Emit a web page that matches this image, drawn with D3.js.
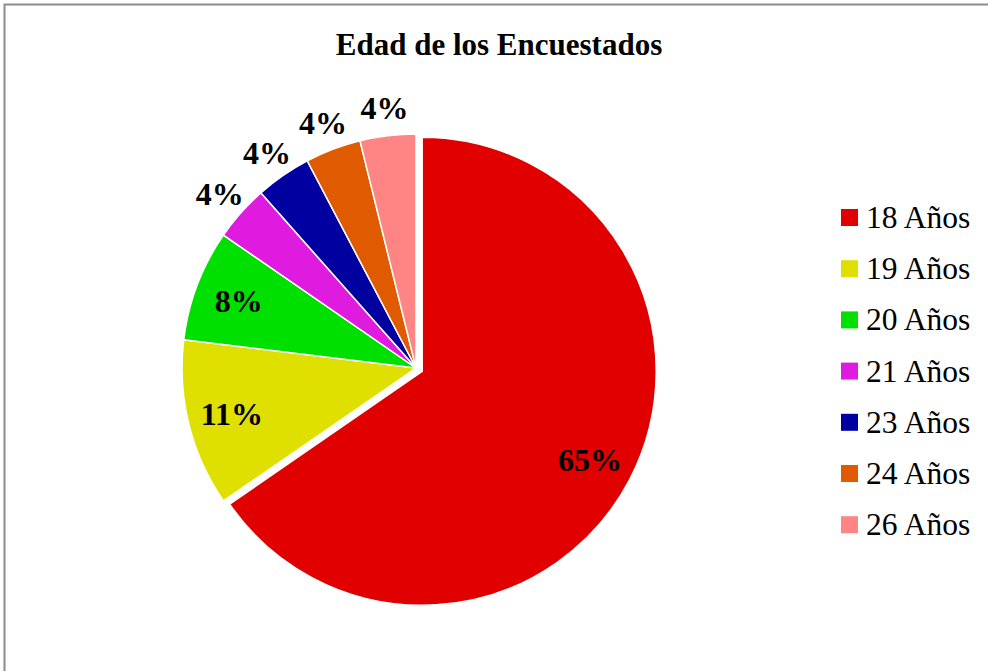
<!DOCTYPE html>
<html>
<head>
<meta charset="utf-8">
<script src="https://cdn.jsdelivr.net/npm/d3@7"></script>
<style>
  html, body { margin: 0; padding: 0; background: #fff; }
  svg { display: block; font-family: "Liberation Serif", "Times New Roman", serif; }
</style>
</head>
<body>
<svg id="chart" width="988" height="671"></svg>
<script>
// data (26 respondents)
const categories = ["18 Años", "19 Años", "20 Años", "21 Años", "23 Años", "24 Años", "26 Años"];
const counts = [17, 3, 2, 1, 1, 1, 1];
const percentLabels = ["65%", "11%", "8%", "4%", "4%", "4%", "4%"];
const colors = ["#e00000", "#e0e000", "#00e000", "#e01be0", "#0000a0", "#e05a00", "#ff8585"];
const title = "Edad de los Encuestados";

const cx = 416, cy = 368, radius = 234;

const svg = d3.select("#chart");

// outer frame (runs off the right and bottom edges)
svg.append("rect")
  .attr("x", 4.5).attr("y", 4.5)
  .attr("width", 1000).attr("height", 700)
  .attr("fill", "none")
  .attr("stroke", "#8c8c8c")
  .attr("stroke-width", 2);

svg.append("text")
  .attr("x", 499).attr("y", 55)
  .attr("text-anchor", "middle")
  .attr("font-size", 31)
  .attr("font-weight", "bold")
  .text(title);

const rows = categories.map((c, i) => ({
  name: c, value: counts[i], label: percentLabels[i], color: colors[i]
}));

const pie = d3.pie().sort(null).value(d => d.value);
const arcs = pie(rows);

const arc = d3.arc().innerRadius(0).outerRadius(radius);
const labelArc = d3.arc().innerRadius(radius * 0.81).outerRadius(radius * 0.81);
const outerArc = d3.arc().innerRadius(radius * 1.12).outerRadius(radius * 1.12);

// first slice is pulled out a little
const explode = 7;
function offset(d, i) {
  if (i !== 0) return [0, 0];
  let a = (d.startAngle + d.endAngle) / 2;
  return [Math.sin(a) * explode, -Math.cos(a) * explode];
}

const g = svg.append("g").attr("transform", "translate(" + cx + "," + cy + ")");

g.selectAll("path")
  .data(arcs)
  .join("path")
  .attr("transform", (d, i) => "translate(" + offset(d, i) + ")")
  .attr("d", arc)
  .attr("fill", d => d.data.color)
  .attr("stroke", "#fff")
  .attr("stroke-width", 1.5);

g.selectAll("text.lbl")
  .data(arcs)
  .join("text")
  .attr("class", "lbl")
  .attr("transform", (d, i) => {
    let small = (d.endAngle - d.startAngle) < 0.3;
    let p = small ? outerArc.centroid(d) : labelArc.centroid(d);
    let o = offset(d, i);
    return "translate(" + (p[0] + o[0]) + "," + (p[1] + o[1]) + ")";
  })
  .attr("text-anchor", "middle")
  .attr("dy", "0.35em")
  .attr("font-size", 32)
  .attr("font-weight", "bold")
  .text(d => d.data.label);

// legend
const legend = svg.append("g").attr("transform", "translate(841,209)");
const item = legend.selectAll("g")
  .data(rows)
  .join("g")
  .attr("transform", (d, i) => "translate(0," + (i * 51.2) + ")");

item.append("rect")
  .attr("width", 17).attr("height", 17)
  .attr("fill", d => d.color);

item.append("text")
  .attr("x", 25).attr("y", 19)
  .attr("font-size", 31.5)
  .text(d => d.name);
</script>
</body>
</html>
